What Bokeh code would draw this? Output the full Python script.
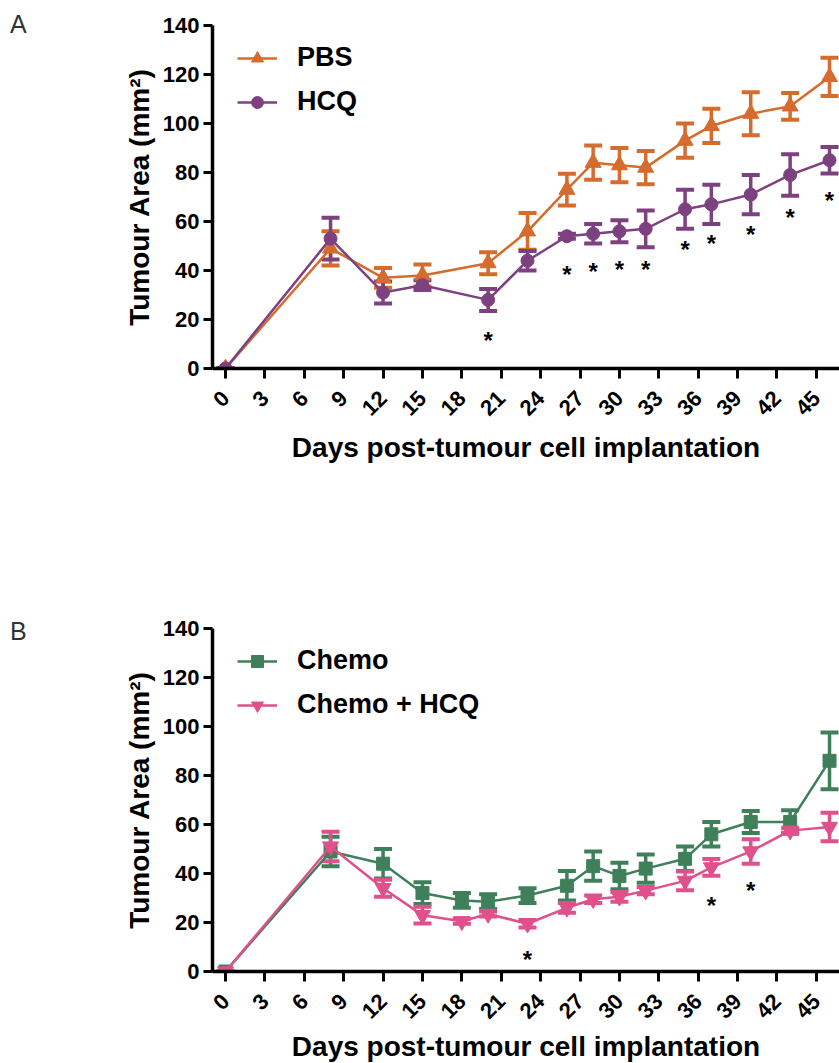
import math
from bokeh.plotting import figure
from bokeh.models import (ColumnDataSource, Whisker, TeeHead, FixedTicker, Legend,
                          LegendItem, Range1d, Div)
from bokeh.core.properties import value
from bokeh.layouts import column, row
from bokeh.embed import file_html
from bokeh.resources import INLINE

# ---------------- data ----------------
days_a = [0, 8, 12, 15, 20, 23, 26, 28, 30, 32, 35, 37, 40, 43, 46]
pbs = [0, 49, 37, 38, 43, 56, 73, 84, 83, 82, 93, 99, 104, 107, 119]
pbs_err = [0, 7, 4, 4.5, 4.5, 7.5, 6.5, 7, 7, 6.8, 7, 7, 8.8, 5.5, 7.8]
hcq = [0, 53, 31, 34, 28, 44, 54, 55, 56, 57, 65, 67, 71, 79, 85]
hcq_err = [0, 8.5, 4.5, 2, 4.5, 4, 1, 4, 4.5, 7.5, 8, 8, 8, 8.5, 5.4]
star_a_days = [20, 26, 28, 30, 32, 35, 37, 40, 43, 46]
star_a_y = [14, 41, 42, 43, 43, 51, 53.6, 57, 64, 71]

days_b = [0, 8, 12, 15, 18, 20, 23, 26, 28, 30, 32, 35, 37, 40, 43, 46]
chemo = [0, 49, 44, 32, 29, 28.5, 31, 35, 43, 39, 42, 46, 56, 61, 61, 86]
chemo_err = [0, 6, 6, 4.4, 3, 3, 3, 6, 6, 5.4, 5.8, 5, 5, 4.5, 4.8, 11.6]
chemo_hcq = [0, 51, 34, 23, 20.5, 23.5, 19.5, 26, 29.5, 30.5, 33, 37, 42.5, 49, 57.5, 59]
chemo_hcq_err = [0, 6, 3.5, 3.4, 1, 1, 1.5, 2, 1.5, 2, 1.5, 3.8, 3.4, 5, 1, 5.8]
star_b_days = [23, 37, 40]
star_b_y = [7.4, 29.5, 35.5]

x_ticks = list(range(0, 46, 3))
y_ticks = [0, 20, 40, 60, 80, 100, 120, 140]

FONT = "Liberation Sans"
FONT_VALUE = value(FONT)
ORANGE = "#D56B2D"
PURPLE = "#7E4180"
GREEN = "#3F805A"
PINK = "#E0508B"
LETTER_W = 30


def make_panel(days, series, stars_x, stars_y, top_border, bottom_border, label_standoff):
    p = figure(width=839 - LETTER_W, frame_width=627, frame_height=343,
               x_range=Range1d(-0.99, 46.76), y_range=Range1d(0, 140),
               output_backend="svg", toolbar_location=None,
               min_border_left=212 - LETTER_W, min_border_right=0,
               min_border_top=top_border, min_border_bottom=bottom_border)
    p.xgrid.visible = False
    p.ygrid.visible = False
    p.outline_line_color = None
    p.background_fill_color = "white"
    p.border_fill_color = "white"

    for ax in (p.xaxis[0], p.yaxis[0]):
        ax.axis_line_width = 3.5
        ax.axis_line_color = "black"
        ax.major_tick_line_width = 3
        ax.major_tick_line_color = "black"
        ax.major_tick_in = 0
        ax.major_tick_out = 10
        ax.minor_tick_line_color = None
        ax.major_label_text_font = FONT
        ax.major_label_text_font_style = "bold"
        ax.major_label_text_font_size = "22px"
        ax.major_label_text_color = "black"
        ax.axis_label_text_font = FONT
        ax.axis_label_text_font_style = "bold"
        ax.axis_label_text_font_size = "28px"
        ax.axis_label_text_color = "black"

    p.xaxis.ticker = FixedTicker(ticks=x_ticks)
    p.yaxis.ticker = FixedTicker(ticks=y_ticks)
    p.yaxis.major_tick_out = 9
    p.yaxis.major_label_standoff = 4
    p.xaxis.major_label_standoff = 16
    p.xaxis.axis_label_standoff = label_standoff
    p.xaxis.major_label_orientation = math.pi / 4
    p.xaxis.axis_label = "Days post-tumour cell implantation"
    p.yaxis.axis_label = "Tumour Area (mm²)"

    items = []
    for name, vals, errs, color, marker, msize in series:
        src = ColumnDataSource(dict(
            x=days, y=vals,
            lo=[v - e for v, e in zip(vals, errs)],
            hi=[v + e for v, e in zip(vals, errs)]))
        w = Whisker(source=src, base="x", lower="lo", upper="hi",
                    line_color=color, line_width=3.5,
                    upper_head=TeeHead(size=18, line_color=color, line_width=4),
                    lower_head=TeeHead(size=18, line_color=color, line_width=4))
        p.add_layout(w)
        lr = p.line("x", "y", source=src, line_color=color, line_width=2.5)
        sr = p.scatter("x", "y", source=src, marker=marker, size=msize,
                       fill_color=color, line_color=color)
        items.append(LegendItem(label=name, renderers=[lr, sr]))

    p.text(x=stars_x, y=stars_y, text=["*"] * len(stars_x),
           text_font=FONT_VALUE, text_font_style="bold", text_font_size="24px",
           text_align="center", text_baseline="middle", text_color="black",
           y_offset=6)

    leg = Legend(items=items, location=(25, 251), margin=0, padding=0,
                 glyph_width=40, glyph_height=30, label_standoff=20,
                 spacing=13, border_line_color=None, background_fill_alpha=0,
                 label_text_font=FONT, label_text_font_style="bold",
                 label_text_font_size="27px", label_text_color="black")
    p.add_layout(leg)
    return p


def letter_div(letter, top):
    html = ('<div style="font-family: \'Liberation Sans\'; font-size: 25px; '
            'color: #333333; margin: %dpx 0 0 10px; line-height: normal;">%s</div>'
            % (top, letter))
    return Div(text=html, width=LETTER_W, height=60, margin=0)


pa = make_panel(days_a,
                [("PBS", pbs, pbs_err, ORANGE, "triangle", 16),
                 ("HCQ", hcq, hcq_err, PURPLE, "circle", 13)],
                star_a_days, star_a_y, 25, 224, 7)
pb = make_panel(days_b,
                [("Chemo", chemo, chemo_err, GREEN, "square", 13),
                 ("Chemo + HCQ", chemo_hcq, chemo_hcq_err, PINK, "inverted_triangle", 16)],
                star_b_days, star_b_y, 36, 85, 3)

layout = column(row(letter_div("A", 10), pa, spacing=0),
                row(letter_div("B", 25), pb, spacing=0), spacing=0)
open("out.html", "w").write(file_html(layout, INLINE))
